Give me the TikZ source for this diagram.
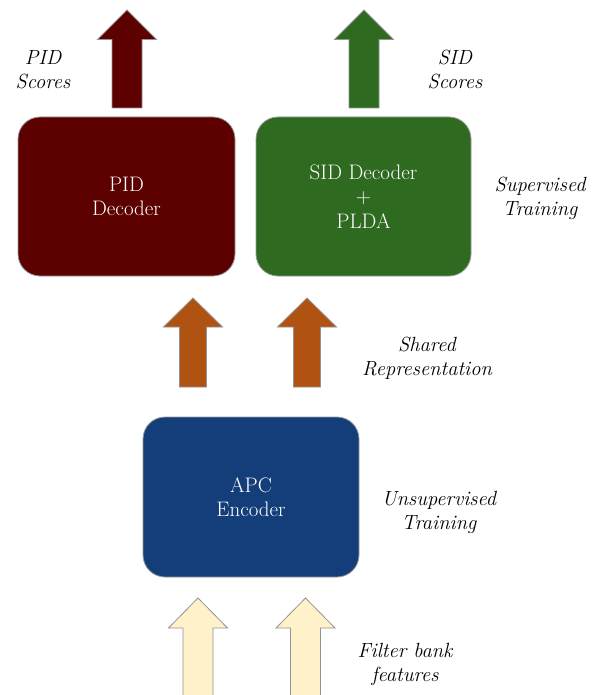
\documentclass[tikz,border=0pt]{standalone}
\usepackage{fontspec}
\usetikzlibrary{calc}

\definecolor{pidred}{RGB}{92,0,0}
\definecolor{sidgreen}{RGB}{46,106,32}
\definecolor{apcblue}{RGB}{19,62,122}
\definecolor{reprorange}{RGB}{176,82,17}
\definecolor{fbcream}{RGB}{255,241,201}

% block arrow: centre x, tip y, head base y, bottom y, shaft half width, colour
\newcommand{\upArrow}[6]{%
  \draw[arrowline, fill=#6]
    (#1-#5,#4) -- (#1-#5,#3) -- (#1-29.5,#3) -- (#1,#2)
    -- (#1+29.5,#3) -- (#1+#5,#3) -- (#1+#5,#4) -- cycle;}

\begin{document}
\begin{tikzpicture}[x=1pt, y=-1pt,
  box/.style={draw=gray!80, line width=0.8pt, rounded corners=22pt,
    text=white, align=center, inner sep=0pt,
    font=\fontsize{21}{24.5}\selectfont},
  lbl/.style={align=center, inner sep=0pt,
    font=\fontsize{20.5}{24}\selectfont\itshape},
  arrowline/.style={draw=gray!85, line width=0.8pt}]
\useasboundingbox (0,0) rectangle (591,695);
\clip (0,0) rectangle (591,695);

\node[box, fill=pidred, minimum width=217pt, minimum height=159pt]
  (pid) at (126.5,196.5) {PID\\Decoder};
\node[box, fill=sidgreen, minimum width=215pt, minimum height=159pt]
  (sid) at (363.5,196.5) {SID Decoder\\+\\PLDA};
\node[box, fill=apcblue, minimum width=216pt, minimum height=160pt]
  (apc) at (251,497) {APC\\Encoder};

\upArrow{127}{10}{39.5}{108}{15}{pidred}
\upArrow{364}{10}{39.5}{108}{15}{sidgreen}
\upArrow{193}{298}{327}{387}{13.5}{reprorange}
\upArrow{307}{298}{327}{387}{13.5}{reprorange}
\upArrow{198}{598}{628}{700}{15}{fbcream}
\upArrow{305.5}{598}{628}{700}{15}{fbcream}

\node[lbl] (pidscores) at (43,70) {PID\\Scores};
\node[lbl] (sidscores) at (455,70) {SID\\Scores};
\node[lbl] (superv) at (540,198.5) {Supervised\\Training};
\node[lbl] (shared) at (427,358.5) {Shared\\Representation};
\node[lbl] (unsuperv) at (439,512) {Unsupervised\\Training};
\node[lbl] (fbank) at (405,664) {Filter bank\\features};
\end{tikzpicture}
\end{document}
